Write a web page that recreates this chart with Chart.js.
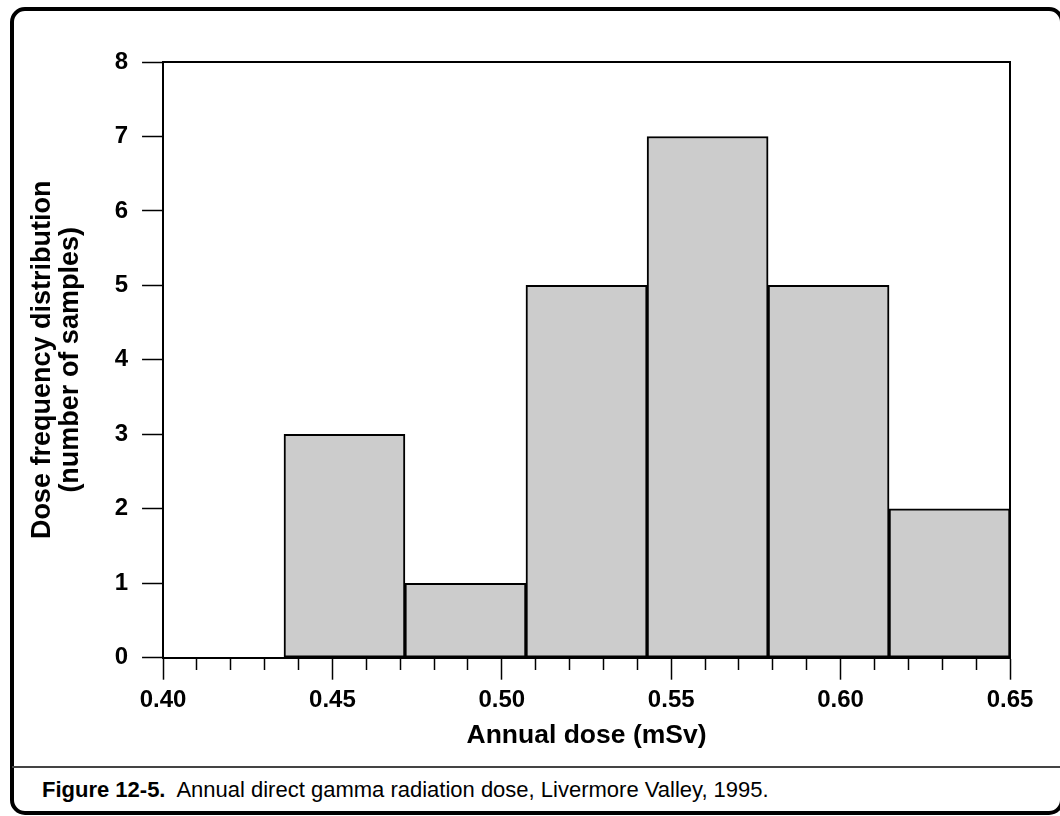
<!DOCTYPE html>
<html>
<head>
<meta charset="utf-8">
<script src="https://cdn.jsdelivr.net/npm/chart.js@4/dist/chart.umd.min.js"></script>
<style>
  html, body { margin: 0; padding: 0; background: #fff; }
  body { width: 1060px; height: 816px; position: relative; overflow: hidden; font-family: 'Liberation Sans', Arial, sans-serif; }
  .frame { position: absolute; left: 10px; top: 7px; width: 1054px; height: 808px; box-sizing: border-box; border: 4px solid #000; border-radius: 15px; }
  .sep { position: absolute; left: 12px; right: 0; top: 766px; height: 2px; background: #444; }
  .caption { position: absolute; left: 42px; top: 777px; font-size: 22px; color: #000; white-space: nowrap; }
  .caption b { margin-right: 6px; }
  canvas { position: absolute; left: 0; top: 0; }
</style>
</head>
<body>
<div class="frame"></div>
<div class="sep"></div>
<div class="caption"><b>Figure 12-5.</b> Annual direct gamma radiation dose, Livermore Valley, 1995.</div>
<canvas id="chart" width="1060" height="762"></canvas>
<script>
// bin edges (mSv) and counts per bin
const binEdges = [0.40, 0.4357, 0.4714, 0.5071, 0.5429, 0.5786, 0.6143, 0.65];
const counts = [0, 3, 1, 5, 7, 5, 2];
const yTicks = [0, 1, 2, 3, 4, 5, 6, 7, 8];
const xLabels = ['0.40', '0.45', '0.50', '0.55', '0.60', '0.65'];

const bars = counts.map((c, i) => ({ x: (binEdges[i] + binEdges[i + 1]) / 2, y: c }));
const fam = "'Liberation Sans', Arial, sans-serif";
const tickFont = { family: fam, size: 24, weight: 'bold' };

function isMajor(v) {
    return xLabels.includes(v.toFixed(2)) && Math.abs(v * 100 - Math.round(v * 100)) < 1e-6;
}

// top and right edge of the plot box
const plotBox = {
    id: 'plotBox',
    afterDraw(chart) {
        const a = chart.chartArea;
        const ctx = chart.ctx;
        ctx.save();
        ctx.strokeStyle = '#000';
        ctx.lineWidth = 2;
        ctx.beginPath();
        ctx.moveTo(a.left, a.top);
        ctx.lineTo(a.right, a.top);
        ctx.lineTo(a.right, a.bottom);
        ctx.stroke();
        ctx.restore();
    }
};

new Chart(document.getElementById('chart'), {
    type: 'bar',
    data: {
        datasets: [{
            data: bars,
            backgroundColor: '#cccccc',
            borderColor: '#000',
            borderWidth: 2,
            borderSkipped: false,
            barThickness: 'flex',
            barPercentage: 1,
            categoryPercentage: 1
        }]
    },
    options: {
        responsive: false,
        devicePixelRatio: 1,
        animation: false,
        layout: { padding: { left: 28, top: 62, right: 50, bottom: 13 } },
        plugins: { legend: { display: false }, tooltip: { enabled: false } },
        scales: {
            x: {
                type: 'linear',
                min: 0.40,
                max: 0.65,
                offset: false,
                border: { color: '#000', width: 2 },
                grid: {
                    drawOnChartArea: false,
                    offset: false,
                    tickLength: 22,
                    tickColor: '#000',
                    tickWidth: 1.5,
                    // minor ticks: only the first 11px of the tick is drawn
                    tickBorderDash: ctx => isMajor(ctx.tick.value) ? [] : [11, 100]
                },
                ticks: {
                    stepSize: 0.01,
                    maxTicksLimit: 100,
                    autoSkip: false,
                    maxRotation: 0,
                    padding: 6,
                    color: '#000',
                    font: tickFont,
                    callback: v => isMajor(v) ? v.toFixed(2) : ''
                },
                title: {
                    display: true,
                    text: 'Annual dose (mSv)',
                    color: '#000',
                    font: { family: fam, size: 26.5, weight: 'bold', lineHeight: 1.0 },
                    padding: { top: 2, bottom: 0 }
                }
            },
            y: {
                min: 0,
                max: 8,
                border: { color: '#000', width: 2 },
                grid: {
                    drawOnChartArea: false,
                    tickLength: 21,
                    tickColor: '#000',
                    tickWidth: 1.5
                },
                ticks: {
                    stepSize: 1,
                    padding: 14,
                    color: '#000',
                    font: tickFont,
                    callback: v => yTicks.includes(v) ? String(v) : ''
                },
                title: {
                    display: true,
                    text: ['Dose frequency distribution', '(number of samples)'],
                    color: '#000',
                    font: { family: fam, size: 27, weight: 'bold', lineHeight: 1.05 },
                    padding: { top: 0, bottom: 16 }
                }
            }
        }
    },
    plugins: [plotBox]
});
</script>
</body>
</html>
